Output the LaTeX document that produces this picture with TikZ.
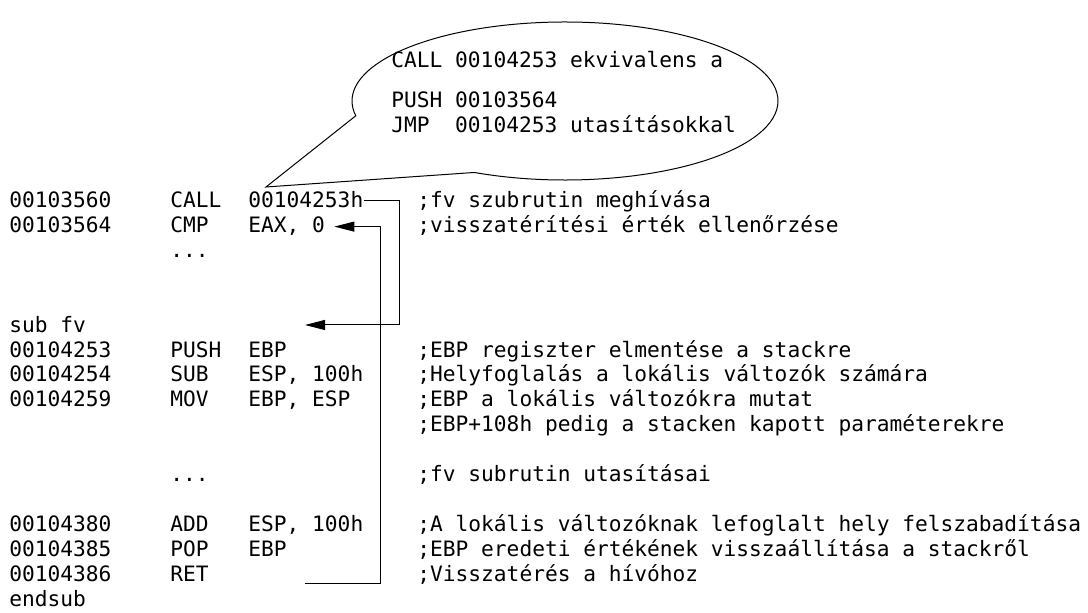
\documentclass[tikz,border=0pt]{standalone}
\usepackage{fontspec}
\setmonofont{DejaVu Sans Mono}
\usetikzlibrary{arrows.meta, positioning, shapes.callouts}

\begin{document}
\begin{tikzpicture}[
  x=0.5pt, y=-0.5pt,
  asm/.style = {anchor=base west, inner sep=0pt,
                font=\ttfamily\fontsize{10.6}{12.5}\selectfont},
  jump/.style = {-{Triangle[length=10pt, width=5pt]}, line width=0.5pt},
  bubble/.style = {ellipse callout, draw, line width=0.5pt, inner sep=0pt,
                   minimum width=213pt, minimum height=79pt,
                   callout pointer arc=54}
]
\useasboundingbox (0,0) rectangle (1088,613);

% speech bubble
\node[bubble, callout absolute pointer={(266,187)}] (note) at (565,101) {};
\node[asm] (n1) at (391,68)  {CALL 00104253 ekvivalens a};
\node[asm] (n2) at (391,108) {PUSH 00103564};
\node[asm] (n3) at (391,133) {JMP\ \ 00104253 utasításokkal};

% caller
\node[asm] (a1) at (9,208)   {00103560};
\node[asm] (o1) at (170,208) {CALL};
\node[asm] (p1) at (248,208) {00104253h};
\node[asm] (c1) at (417,208) {;fv szubrutin meghívása};
\node[asm] (a2) at (9,233)   {00103564};
\node[asm] (o2) at (170,233) {CMP};
\node[asm] (p2) at (248,233) {EAX, 0};
\node[asm] (c2) at (417,233) {;visszatérítési érték ellenőrzése};
\node[asm] (d1) at (170,258) {...};

% subroutine
\node[asm] (sub) at (9,332.5)  {sub fv};
\node[asm] (a3) at (9,357.5)   {00104253};
\node[asm] (o3) at (170,357.5) {PUSH};
\node[asm] (p3) at (248,357.5) {EBP};
\node[asm] (c3) at (417,357.5) {;EBP regiszter elmentése a stackre};
\node[asm] (a4) at (9,382)     {00104254};
\node[asm] (o4) at (170,382)   {SUB};
\node[asm] (p4) at (248,382)   {ESP, 100h};
\node[asm] (c4) at (417,382)   {;Helyfoglalás a lokális változók számára};
\node[asm] (a5) at (9,407)     {00104259};
\node[asm] (o5) at (170,407)   {MOV};
\node[asm] (p5) at (248,407)   {EBP, ESP};
\node[asm] (c5) at (417,407)   {;EBP a lokális változókra mutat};
\node[asm] (c6) at (417,432)   {;EBP+108h pedig a stacken kapott paraméterekre};
\node[asm] (d2) at (170,482)   {...};
\node[asm] (c7) at (417,482)   {;fv subrutin utasításai};
\node[asm] (a8) at (9,532)     {00104380};
\node[asm] (o8) at (170,532)   {ADD};
\node[asm] (p8) at (248,532)   {ESP, 100h};
\node[asm] (c8) at (417,532)   {;A lokális változóknak lefoglalt hely felszabadítása};
\node[asm] (a9) at (9,557)     {00104385};
\node[asm] (o9) at (170,557)   {POP};
\node[asm] (p9) at (248,557)   {EBP};
\node[asm] (c9) at (417,557)   {;EBP eredeti értékének visszaállítása a stackről};
\node[asm] (a10) at (9,582)    {00104386};
\node[asm] (o10) at (170,582)  {RET};
\node[asm] (c10) at (417,582)  {;Visszatérés a hívóhoz};
\node[asm] (endsub) at (9,607) {endsub};

% jumps
\coordinate (subtip) at (305,325);
\coordinate (retstart) at (305,584);
\draw[jump] (p1.east) -- ++(36,0) |- (subtip);
\draw[jump, shorten >=4.5pt] (retstart) -- ++(75,0) |- (p2.east);
\end{tikzpicture}
\end{document}
